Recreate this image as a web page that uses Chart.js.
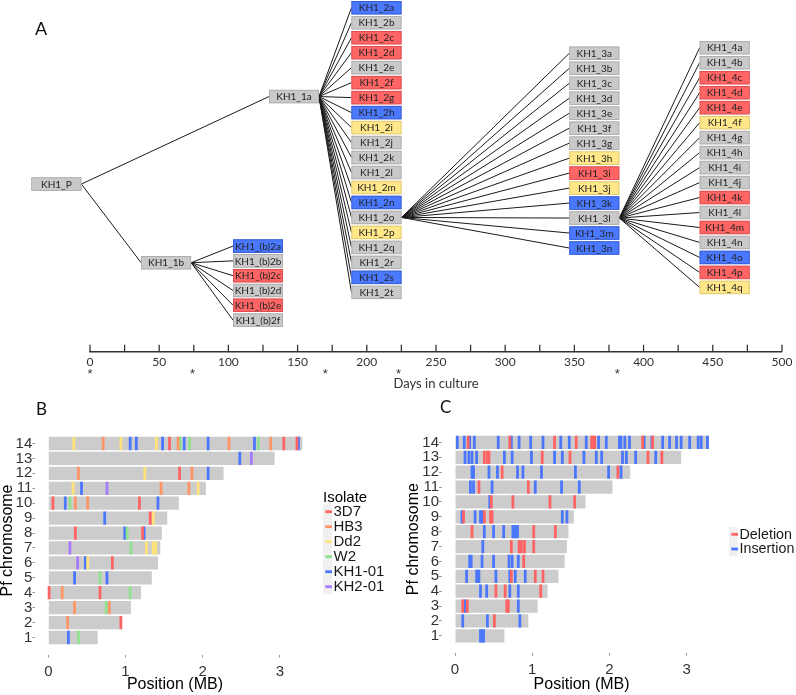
<!DOCTYPE html>
<html>
<head>
<meta charset="utf-8">
<script src="https://cdn.jsdelivr.net/npm/chart.js@4.4.1/dist/chart.umd.min.js"></script>
<style>
  html, body { margin: 0; padding: 0; background: #ffffff; }
  #wrap { position: relative; width: 796px; height: 695px; overflow: hidden; background: #fff; }
  .box { position: absolute; }
</style>
</head>
<body>
<div id="wrap">
  <div class="box" style="left:0;top:0;"><canvas id="cA" width="796" height="392"></canvas></div>
  <div class="box" style="left:0;top:380px;"><canvas id="cB" width="400" height="315"></canvas></div>
  <div class="box" style="left:400px;top:380px;"><canvas id="cC" width="396" height="315"></canvas></div>
</div>
<script>
// ===================== DATA =====================
// ---- Panel A: clone lineage ----
const parentNames = ['KH1_P'];
const parentStatus = ['g'];
const gen1Names = ['KH1_1a', 'KH1_1b'];
const gen1Status = ['g', 'g'];
const gen2bNames = ['KH1_(b)2a', 'KH1_(b)2b', 'KH1_(b)2c', 'KH1_(b)2d', 'KH1_(b)2e', 'KH1_(b)2f'];
const gen2bStatus = ['b', 'g', 'r', 'g', 'r', 'g'];
const gen2Names = ['KH1_2a', 'KH1_2b', 'KH1_2c', 'KH1_2d', 'KH1_2e', 'KH1_2f', 'KH1_2g', 'KH1_2h', 'KH1_2i', 'KH1_2j',
                   'KH1_2k', 'KH1_2l', 'KH1_2m', 'KH1_2n', 'KH1_2o', 'KH1_2p', 'KH1_2q', 'KH1_2r', 'KH1_2s', 'KH1_2t'];
const gen2Status = ['b', 'g', 'r', 'r', 'g', 'r', 'r', 'b', 'y', 'g', 'g', 'g', 'y', 'b', 'g', 'y', 'g', 'g', 'b', 'g'];
const gen3Names = ['KH1_3a', 'KH1_3b', 'KH1_3c', 'KH1_3d', 'KH1_3e', 'KH1_3f', 'KH1_3g', 'KH1_3h', 'KH1_3i', 'KH1_3j',
                   'KH1_3k', 'KH1_3l', 'KH1_3m', 'KH1_3n'];
const gen3Status = ['g', 'g', 'g', 'g', 'g', 'g', 'g', 'y', 'r', 'y', 'b', 'g', 'b', 'b'];
const gen4Names = ['KH1_4a', 'KH1_4b', 'KH1_4c', 'KH1_4d', 'KH1_4e', 'KH1_4f', 'KH1_4g', 'KH1_4h', 'KH1_4i', 'KH1_4j',
                   'KH1_4k', 'KH1_4l', 'KH1_4m', 'KH1_4n', 'KH1_4o', 'KH1_4p', 'KH1_4q'];
const gen4Status = ['g', 'g', 'r', 'r', 'r', 'y', 'g', 'g', 'g', 'g', 'r', 'g', 'r', 'g', 'b', 'r', 'y'];
const gen2Hub = 'KH1_2o';
const gen3Hub = 'KH1_3l';
const cloningDays = [0, 74, 170, 223, 381];
const dayAxisTitle = 'Days in culture';

// ---- Panel B: isolate-specific markers per chromosome ----
const chromosomes = [1, 2, 3, 4, 5, 6, 7, 8, 9, 10, 11, 12, 13, 14];
const chromLengthMB = [0.64, 0.95, 1.07, 1.20, 1.34, 1.42, 1.45, 1.47, 1.54, 1.69, 2.04, 2.27, 2.93, 3.29];
const isolateNames = ['3D7', 'HB3', 'Dd2', 'W2', 'KH1-01', 'KH2-01'];
const marks3D7 = [[14, 1.57], [14, 3.05], [14, 3.22], [12, 1.70], [10, 0.06], [10, 1.18], [9, 1.32], [8, 0.35],
                  [8, 1.22], [6, 0.83], [4, 0.01], [4, 0.67], [2, 0.94]];
const marksHB3 = [[14, 0.71], [14, 1.68], [14, 2.34], [14, 2.88], [12, 0.39], [12, 1.86], [11, 1.46], [11, 1.82],
                  [10, 0.35], [10, 0.51], [4, 0.18], [3, 0.34], [3, 0.79], [2, 0.25]];
const marksDd2 = [[14, 0.33], [14, 0.94], [14, 1.40], [12, 1.25], [11, 0.32], [11, 1.94], [9, 1.36], [7, 1.27],
                  [7, 1.36], [7, 1.39], [6, 0.51]];
const marksW2 = [[14, 1.71], [14, 1.83], [14, 2.72], [10, 0.28], [8, 1.02], [7, 1.07], [5, 0.67], [4, 1.06],
                 [3, 0.75], [1, 0.39]];
const marksKH1 = [[14, 1.06], [14, 1.14], [14, 1.48], [14, 1.76], [14, 2.07], [14, 2.67], [14, 3.24], [13, 2.48],
                  [12, 2.07], [11, 0.43], [10, 0.22], [10, 1.42], [9, 0.73], [8, 0.99], [8, 1.24], [6, 0.48],
                  [5, 0.34], [5, 0.76], [1, 0.26]];
const marksKH2 = [[13, 2.63], [11, 0.76], [7, 0.28], [6, 0.38]];

// ---- Panel C: deletions / insertions per chromosome ----
const variantNames = ['Deletion', 'Insertion'];
const deletionMarks = [
  [14, 0.17], [14, 0.71], [14, 1.29], [14, 1.57], [14, 1.77], [14, 1.79], [14, 1.81], [14, 2.43], [14, 2.56],
  [13, 0.38], [13, 0.42], [13, 0.44], [13, 1.13], [13, 1.49], [13, 2.50], [13, 2.68],
  [12, 0.61], [12, 2.11],
  [11, 0.31], [11, 0.95],
  [10, 0.47], [10, 0.75], [10, 1.23], [10, 1.55],
  [9, 0.11], [9, 0.38], [9, 0.46], [9, 0.48],
  [8, 0.22], [8, 1.02], [8, 1.30],
  [7, 0.73], [7, 0.83], [7, 0.86], [7, 0.90], [7, 1.02],
  [6, 0.89],
  [5, 0.73], [5, 1.04], [5, 1.14],
  [4, 0.53], [4, 0.65], [4, 1.11],
  [3, 0.10], [3, 0.16], [3, 0.67], [3, 0.69],
  [2, 0.51]
];
const insertionMarks = [
  [14, 0.03], [14, 0.12], [14, 0.19], [14, 0.25], [14, 0.56], [14, 0.73], [14, 0.83], [14, 0.98], [14, 1.14],
  [14, 1.37], [14, 1.48], [14, 1.70], [14, 1.86], [14, 1.96], [14, 2.13], [14, 2.15], [14, 2.20], [14, 2.26],
  [14, 2.45], [14, 2.55], [14, 2.69], [14, 2.78], [14, 2.87], [14, 2.93], [14, 3.04], [14, 3.15], [14, 3.19], [14, 3.27],
  [13, 0.13], [13, 0.18], [13, 0.22], [13, 0.28], [13, 0.64], [13, 0.74], [13, 0.99], [13, 1.29], [13, 1.39],
  [13, 1.67], [13, 1.83], [13, 1.90], [13, 2.17], [13, 2.22], [13, 2.34], [13, 2.60],
  [12, 0.22], [12, 0.24], [12, 0.44], [12, 0.55], [12, 0.81], [12, 0.88], [12, 1.12], [12, 1.56], [12, 1.99], [12, 2.15],
  [11, 0.20], [11, 0.24], [11, 0.48], [11, 1.04], [11, 1.38], [11, 1.61],
  [10, 0.45],
  [9, 0.09], [9, 0.26], [9, 0.33], [9, 0.35], [9, 1.39], [9, 1.45],
  [8, 0.38], [8, 0.50], [8, 0.63], [8, 0.75], [8, 0.78], [8, 0.81],
  [7, 0.36],
  [6, 0.19], [6, 0.21], [6, 0.35], [6, 0.50], [6, 0.70], [6, 0.74], [6, 0.82],
  [5, 0.15], [5, 0.28], [5, 0.31], [5, 0.53], [5, 0.71], [5, 0.78], [5, 0.91],
  [4, 0.33], [4, 0.41], [4, 0.71], [4, 0.82],
  [3, 0.13], [3, 0.82],
  [2, 0.10], [2, 0.42], [2, 0.84],
  [1, 0.33], [1, 0.35], [1, 0.37]
];

// ===================== LAYOUT & STYLE =====================
const FONT_GG = '"Liberation Sans", Arial, sans-serif';
const FONT_A = 'Lato, "Open Sans", sans-serif';
Chart.defaults.font.family = FONT_GG;

// tree layout (x in days of the culture axis, y in row slots)
const treeLayout = {
  P: { day: -24.3, slot: 11.77 },
  gen1: [{ day: 147.4, slot: 5.93 }, { day: 55.0, slot: 17.02 }],
  gen2b: { day: 121.4, slot0: 15.91, step: 0.988 },
  gen2: { day: 207.0, slot0: 0, step: 1 },
  gen3: { day: 364.4, slot0: 3.04, step: 1 },
  gen4: { day: 458.6, slot0: 2.67, step: 1 }
};
const BOX_W = 50, BOX_H = 13.4;
const BOX_HALF_DAYS = (BOX_W / 2) / (692 / 500);
const statusFill = { g: '#c9c9c9', r: '#ff6565', b: '#4a78ff', y: '#ffe78a' };
const statusEdge = { g: '#a9a9a9', r: '#d84a4a', b: '#3358c8', y: '#d9c46a' };

const isoColors = ['#ff6464', '#ff9466', '#ffe27a', '#8fe38f', '#4b77ff', '#a87cff'];
const isoMarks = [marks3D7, marksHB3, marksDd2, marksW2, marksKH1, marksKH2];
const varColors = ['#ff6464', '#4b77ff'];
const MARK_HALF = 0.018;

// ===================== PANEL A =====================
const nodes = [];
function addNode(name, status, day, slot, parent) {
  const n = { name, status, day, slot, parent };
  nodes.push(n);
  return n;
}
const pNode = addNode(parentNames[0], parentStatus[0], treeLayout.P.day, treeLayout.P.slot, null);
const g1 = gen1Names.map((nm, i) => addNode(nm, gen1Status[i], treeLayout.gen1[i].day, treeLayout.gen1[i].slot, pNode));
gen2bNames.forEach((nm, i) => addNode(nm, gen2bStatus[i], treeLayout.gen2b.day, treeLayout.gen2b.slot0 + i * treeLayout.gen2b.step, g1[1]));
const g2 = gen2Names.map((nm, i) => addNode(nm, gen2Status[i], treeLayout.gen2.day, treeLayout.gen2.slot0 + i * treeLayout.gen2.step, g1[0]));
const hub2 = g2[gen2Names.indexOf(gen2Hub)];
const g3 = gen3Names.map((nm, i) => addNode(nm, gen3Status[i], treeLayout.gen3.day, treeLayout.gen3.slot0 + i * treeLayout.gen3.step, hub2));
const hub3 = g3[gen3Names.indexOf(gen3Hub)];
gen4Names.forEach((nm, i) => addNode(nm, gen4Status[i], treeLayout.gen4.day, treeLayout.gen4.slot0 + i * treeLayout.gen4.step, hub3));

const edgePoints = [];
nodes.forEach(n => {
  if (!n.parent) return;
  edgePoints.push({ x: n.parent.day + BOX_HALF_DAYS, y: n.parent.slot });
  edgePoints.push({ x: n.day - BOX_HALF_DAYS, y: n.slot });
  edgePoints.push({ x: n.day, y: null });
});

const treePlugin = {
  id: 'treeBoxes',
  afterDatasetsDraw(chart) {
    const ctx = chart.ctx;
    const meta = chart.getDatasetMeta(1);
    ctx.save();
    meta.data.forEach((pt, i) => {
      const n = nodes[i];
      const x0 = pt.x - BOX_W / 2, y0 = pt.y - BOX_H / 2;
      ctx.fillStyle = statusFill[n.status];
      ctx.fillRect(x0, y0, BOX_W, BOX_H);
      ctx.strokeStyle = statusEdge[n.status];
      ctx.lineWidth = 0.8;
      ctx.strokeRect(x0 + 0.4, y0 + 0.4, BOX_W - 0.8, BOX_H - 0.8);
      ctx.fillStyle = '#232323';
      ctx.font = '10px ' + FONT_A;
      ctx.textAlign = 'center';
      ctx.textBaseline = 'middle';
      ctx.fillText(n.name, pt.x, pt.y + 0.5);
    });
    // upward tick marks on the day axis
    const xs = chart.scales.x;
    ctx.strokeStyle = '#333';
    ctx.lineWidth = 1.3;
    xs.ticks.forEach(t => {
      const px = xs.getPixelForValue(t.value);
      ctx.beginPath();
      ctx.moveTo(px, xs.top);
      ctx.lineTo(px, xs.top - 7);
      ctx.stroke();
    });
    // cloning-day asterisks
    ctx.fillStyle = '#333';
    ctx.font = '13px ' + FONT_GG;
    ctx.textAlign = 'center';
    ctx.textBaseline = 'alphabetic';
    cloningDays.forEach(d => ctx.fillText('*', xs.getPixelForValue(d), xs.top + 26));
    // panel letter
    ctx.fillStyle = '#111';
    ctx.font = '18px ' + FONT_A;
    ctx.textAlign = 'left';
    ctx.fillText('A', 35, 35);
    ctx.restore();
  }
};

new Chart(document.getElementById('cA'), {
  type: 'scatter',
  data: {
    datasets: [
      { label: 'lineage', data: edgePoints, showLine: true, spanGaps: false, borderColor: '#1a1a1a',
        borderWidth: 1, pointRadius: 0, clip: false, order: 2 },
      { label: 'clones', data: nodes.map(n => ({ x: n.day, y: n.slot })), pointRadius: 0, showLine: false,
        clip: false, order: 1 }
    ]
  },
  options: {
    responsive: false, animation: false, events: [],
    layout: { padding: { left: 90, right: 14, top: 0, bottom: 0 } },
    scales: {
      x: {
        type: 'linear', min: 0, max: 500, position: 'bottom',
        afterFit: s => { s.height = 40.3; },
        border: { display: true, color: '#333', width: 1.4 },
        grid: { display: true, drawOnChartArea: false, drawTicks: false },
        ticks: { stepSize: 25, autoSkip: false, maxRotation: 0, padding: 3.6, color: '#333',
                 font: { family: FONT_A, size: 12 }, callback: v => (v % 50 === 0 ? String(v) : '') },
        title: { display: true, text: dayAxisTitle, color: '#333', font: { family: FONT_A, size: 13, lineHeight: 1 },
                 padding: { top: 0, bottom: 1.5 } }
      },
      y: { type: 'linear', display: false, reverse: true, min: -0.515, max: 22.96 }
    },
    plugins: { legend: { display: false }, tooltip: { enabled: false } }
  },
  plugins: [treePlugin]
});

// ===================== PANELS B & C =====================
function toBars(pairs) {
  return pairs.map(([c, p]) => ({ x: [p - MARK_HALF, p + MARK_HALF], y: c }));
}
const chromBars = chromosomes.map((c, i) => ({ x: [0, chromLengthMB[i]], y: c }));

function makeLegendPlugin(cfg) {
  return {
    id: 'customLegend',
    afterDraw(chart) {
      const ctx = chart.ctx;
      ctx.save();
      ctx.textAlign = 'left';
      ctx.textBaseline = 'middle';
      ctx.font = cfg.fontSize + 'px ' + FONT_GG;
      if (cfg.title) {
        ctx.fillStyle = '#000';
        ctx.fillText(cfg.title, cfg.keyX, cfg.titleY);
      }
      const items = chart.data.datasets.filter(d => d.label !== 'chromosome');
      items.forEach((d, i) => {
        const cy = cfg.y0 + i * cfg.step;
        ctx.fillStyle = '#f0f0f0';
        ctx.fillRect(cfg.keyX, cy - cfg.step / 2, cfg.keyW, cfg.step);
        ctx.fillStyle = d.backgroundColor;
        ctx.fillRect(cfg.keyX + 2.3, cy - 1.4, cfg.keyW - 2.3, 2.8);
        ctx.fillStyle = '#1a1a1a';
        ctx.fillText(d.label, cfg.textX, cy + 0.5);
      });
      // panel letter
      ctx.fillStyle = '#111';
      ctx.font = '17px ' + FONT_A;
      ctx.textBaseline = 'alphabetic';
      ctx.fillText(cfg.letter, cfg.letterX, cfg.letterY);
      ctx.restore();
    }
  };
}

function chromChart(canvasId, markSets, names, colors, geom, legendCfg) {
  const datasets = [{ label: 'chromosome', data: chromBars, backgroundColor: '#cccccc', order: 10 }];
  markSets.forEach((m, i) => datasets.push({ label: names[i], data: toBars(m), backgroundColor: colors[i], order: 1 }));
  return new Chart(document.getElementById(canvasId), {
    type: 'bar',
    data: { datasets },
    options: {
      indexAxis: 'y', responsive: false, animation: false, events: [],
      layout: { padding: { left: 0, top: geom.top, right: geom.right, bottom: 0 } },
      datasets: { bar: { grouped: false, barPercentage: 0.89, categoryPercentage: 1, borderWidth: 0 } },
      scales: {
        x: {
          type: 'linear', min: -0.175, max: 3.455,
          afterFit: s => { s.height = geom.xh; },
          border: { display: false },
          grid: { display: true, drawOnChartArea: false, drawTicks: true, tickLength: 3, color: '#9a9a9a', offset: false },
          ticks: { stepSize: 1, includeBounds: false, autoSkip: false, maxRotation: 0, padding: 5, color: '#333',
                   font: { size: 15 } },
          title: { display: true, text: 'Position (MB)', color: '#000', font: { size: 16, lineHeight: 1 },
                   padding: { top: 0, bottom: 2 } }
        },
        y: {
          type: 'linear', min: 0.4, max: 14.6,
          afterFit: s => { s.width = geom.yw; },
          border: { display: false },
          grid: { display: true, drawOnChartArea: false, drawTicks: true, tickLength: 2.5, color: '#9a9a9a', offset: false },
          ticks: { stepSize: 1, includeBounds: false, autoSkip: false, padding: 0, color: '#333', font: { size: 15 } },
          title: { display: true, text: 'Pf chromosome', color: '#000', font: { size: 16, lineHeight: 1 },
                   padding: { top: geom.ytPad, bottom: 0 } }
        }
      },
      plugins: { legend: { display: false }, tooltip: { enabled: false } }
    },
    plugins: [makeLegendPlugin(legendCfg)]
  });
}

chromChart('cB', isoMarks, isolateNames, isoColors,
  { top: 46.4, right: 84.9, xh: 40.4, yw: 34.8, ytPad: 0 },
  { title: 'Isolate', titleY: 118, keyX: 323, keyW: 9, textX: 333.5, y0: 131.7, step: 15, fontSize: 15,
    letter: 'B', letterX: 36, letterY: 35 });

chromChart('cC', [deletionMarks, insertionMarks], variantNames, varColors,
  { top: 45.4, right: 74.3, xh: 42.1, yw: 41.5, ytPad: 6 },
  { title: null, keyX: 329, keyW: 9, textX: 339.5, y0: 154.3, step: 14.7, fontSize: 14.3,
    letter: 'C', letterX: 40, letterY: 33 });
</script>
</body>
</html>
